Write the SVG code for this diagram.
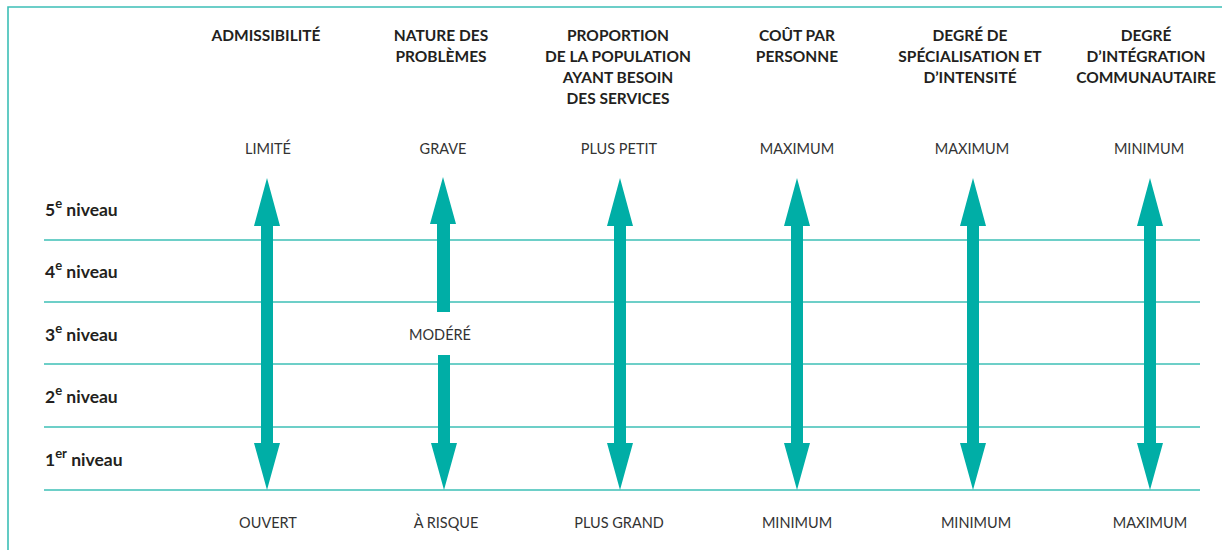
<svg xmlns="http://www.w3.org/2000/svg" width="1222" height="550" viewBox="0 0 1222 550">
<style>
.hdr{font-family:Lato,"Open Sans","Liberation Sans",sans-serif;font-weight:bold;font-size:15.5px;fill:#231f20;text-anchor:middle}
.val{font-family:Lato,"Open Sans","Liberation Sans",sans-serif;font-size:14.5px;fill:#333;text-anchor:middle}
.lvl{font-family:Lato,"Open Sans","Liberation Sans",sans-serif;font-weight:bold;font-size:17.5px;fill:#231f20}
.sup{font-size:13px}
.grid{stroke:#3cbfb6;stroke-width:1.6;fill:none}
.arr{fill:#00aea6}
</style>
<defs>
<path id="dbl" d="M0,-312 L13,-264 L6,-264 L6,-47 L13,-47 L0,0 L-13,-47 L-6,-47 L-6,-264 L-13,-264 Z"/>
</defs>
<g id="frame" class="grid">
<path d="M8,550 L8,7 L1222,7"/>
</g>
<g id="grid" class="grid">
<line x1="44" y1="240" x2="1200" y2="240"/>
<line x1="44" y1="302" x2="1200" y2="302"/>
<line x1="44" y1="364" x2="1200" y2="364"/>
<line x1="44" y1="427" x2="1200" y2="427"/>
<line x1="44" y1="490" x2="1200" y2="490"/>
</g>
<g id="levels" class="lvl">
<text x="45" y="216">5<tspan class="sup" dy="-8">e</tspan><tspan dy="8"> niveau</tspan></text>
<text x="45" y="278">4<tspan class="sup" dy="-8">e</tspan><tspan dy="8"> niveau</tspan></text>
<text x="45" y="341">3<tspan class="sup" dy="-8">e</tspan><tspan dy="8"> niveau</tspan></text>
<text x="45" y="403">2<tspan class="sup" dy="-8">e</tspan><tspan dy="8"> niveau</tspan></text>
<text x="45" y="466">1<tspan class="sup" dy="-8">er</tspan><tspan dy="8"> niveau</tspan></text>
</g>
<g id="col-admissibilite">
<text class="hdr" x="266" y="41">ADMISSIBILITÉ</text>
<text class="val" x="268" y="154">LIMITÉ</text>
<text class="val" x="268" y="528">OUVERT</text>
</g>
<g id="col-nature">
<text class="hdr" x="441" y="41">NATURE DES</text>
<text class="hdr" x="441" y="62">PROBLÈMES</text>
<text class="val" x="443" y="154">GRAVE</text>
<text class="val" x="440" y="340">MODÉRÉ</text>
<text class="val" x="446" y="528">À RISQUE</text>
</g>
<g id="col-proportion">
<text class="hdr" x="618" y="41">PROPORTION</text>
<text class="hdr" x="618" y="62">DE LA POPULATION</text>
<text class="hdr" x="618" y="83">AYANT BESOIN</text>
<text class="hdr" x="618" y="104">DES SERVICES</text>
<text class="val" x="619" y="154">PLUS PETIT</text>
<text class="val" x="619" y="528">PLUS GRAND</text>
</g>
<g id="col-cout">
<text class="hdr" x="797" y="41">COÛT PAR</text>
<text class="hdr" x="797" y="62">PERSONNE</text>
<text class="val" x="797" y="154">MAXIMUM</text>
<text class="val" x="797" y="528">MINIMUM</text>
</g>
<g id="col-specialisation">
<text class="hdr" x="970" y="41">DEGRÉ DE</text>
<text class="hdr" x="970" y="62">SPÉCIALISATION ET</text>
<text class="hdr" x="970" y="83">D’INTENSITÉ</text>
<text class="val" x="972" y="154">MAXIMUM</text>
<text class="val" x="976" y="528">MINIMUM</text>
</g>
<g id="col-integration">
<text class="hdr" x="1146" y="41">DEGRÉ</text>
<text class="hdr" x="1146" y="62">D’INTÉGRATION</text>
<text class="hdr" x="1146" y="83">COMMUNAUTAIRE</text>
<text class="val" x="1149" y="154">MINIMUM</text>
<text class="val" x="1150" y="528">MAXIMUM</text>
</g>
<g id="connectors" class="arr">
<use href="#dbl" x="267" y="490"/>
<path d="M443,177 L456,224 L450,224 L450,312 L437,312 L437,224 L430,224 Z"/>
<path d="M444,490 L457,443 L450,443 L450,355 L438,355 L438,443 L431,443 Z"/>
<use href="#dbl" x="620" y="490"/>
<use href="#dbl" x="797" y="490"/>
<use href="#dbl" x="973" y="490"/>
<use href="#dbl" x="1150" y="490"/>
</g>
</svg>
